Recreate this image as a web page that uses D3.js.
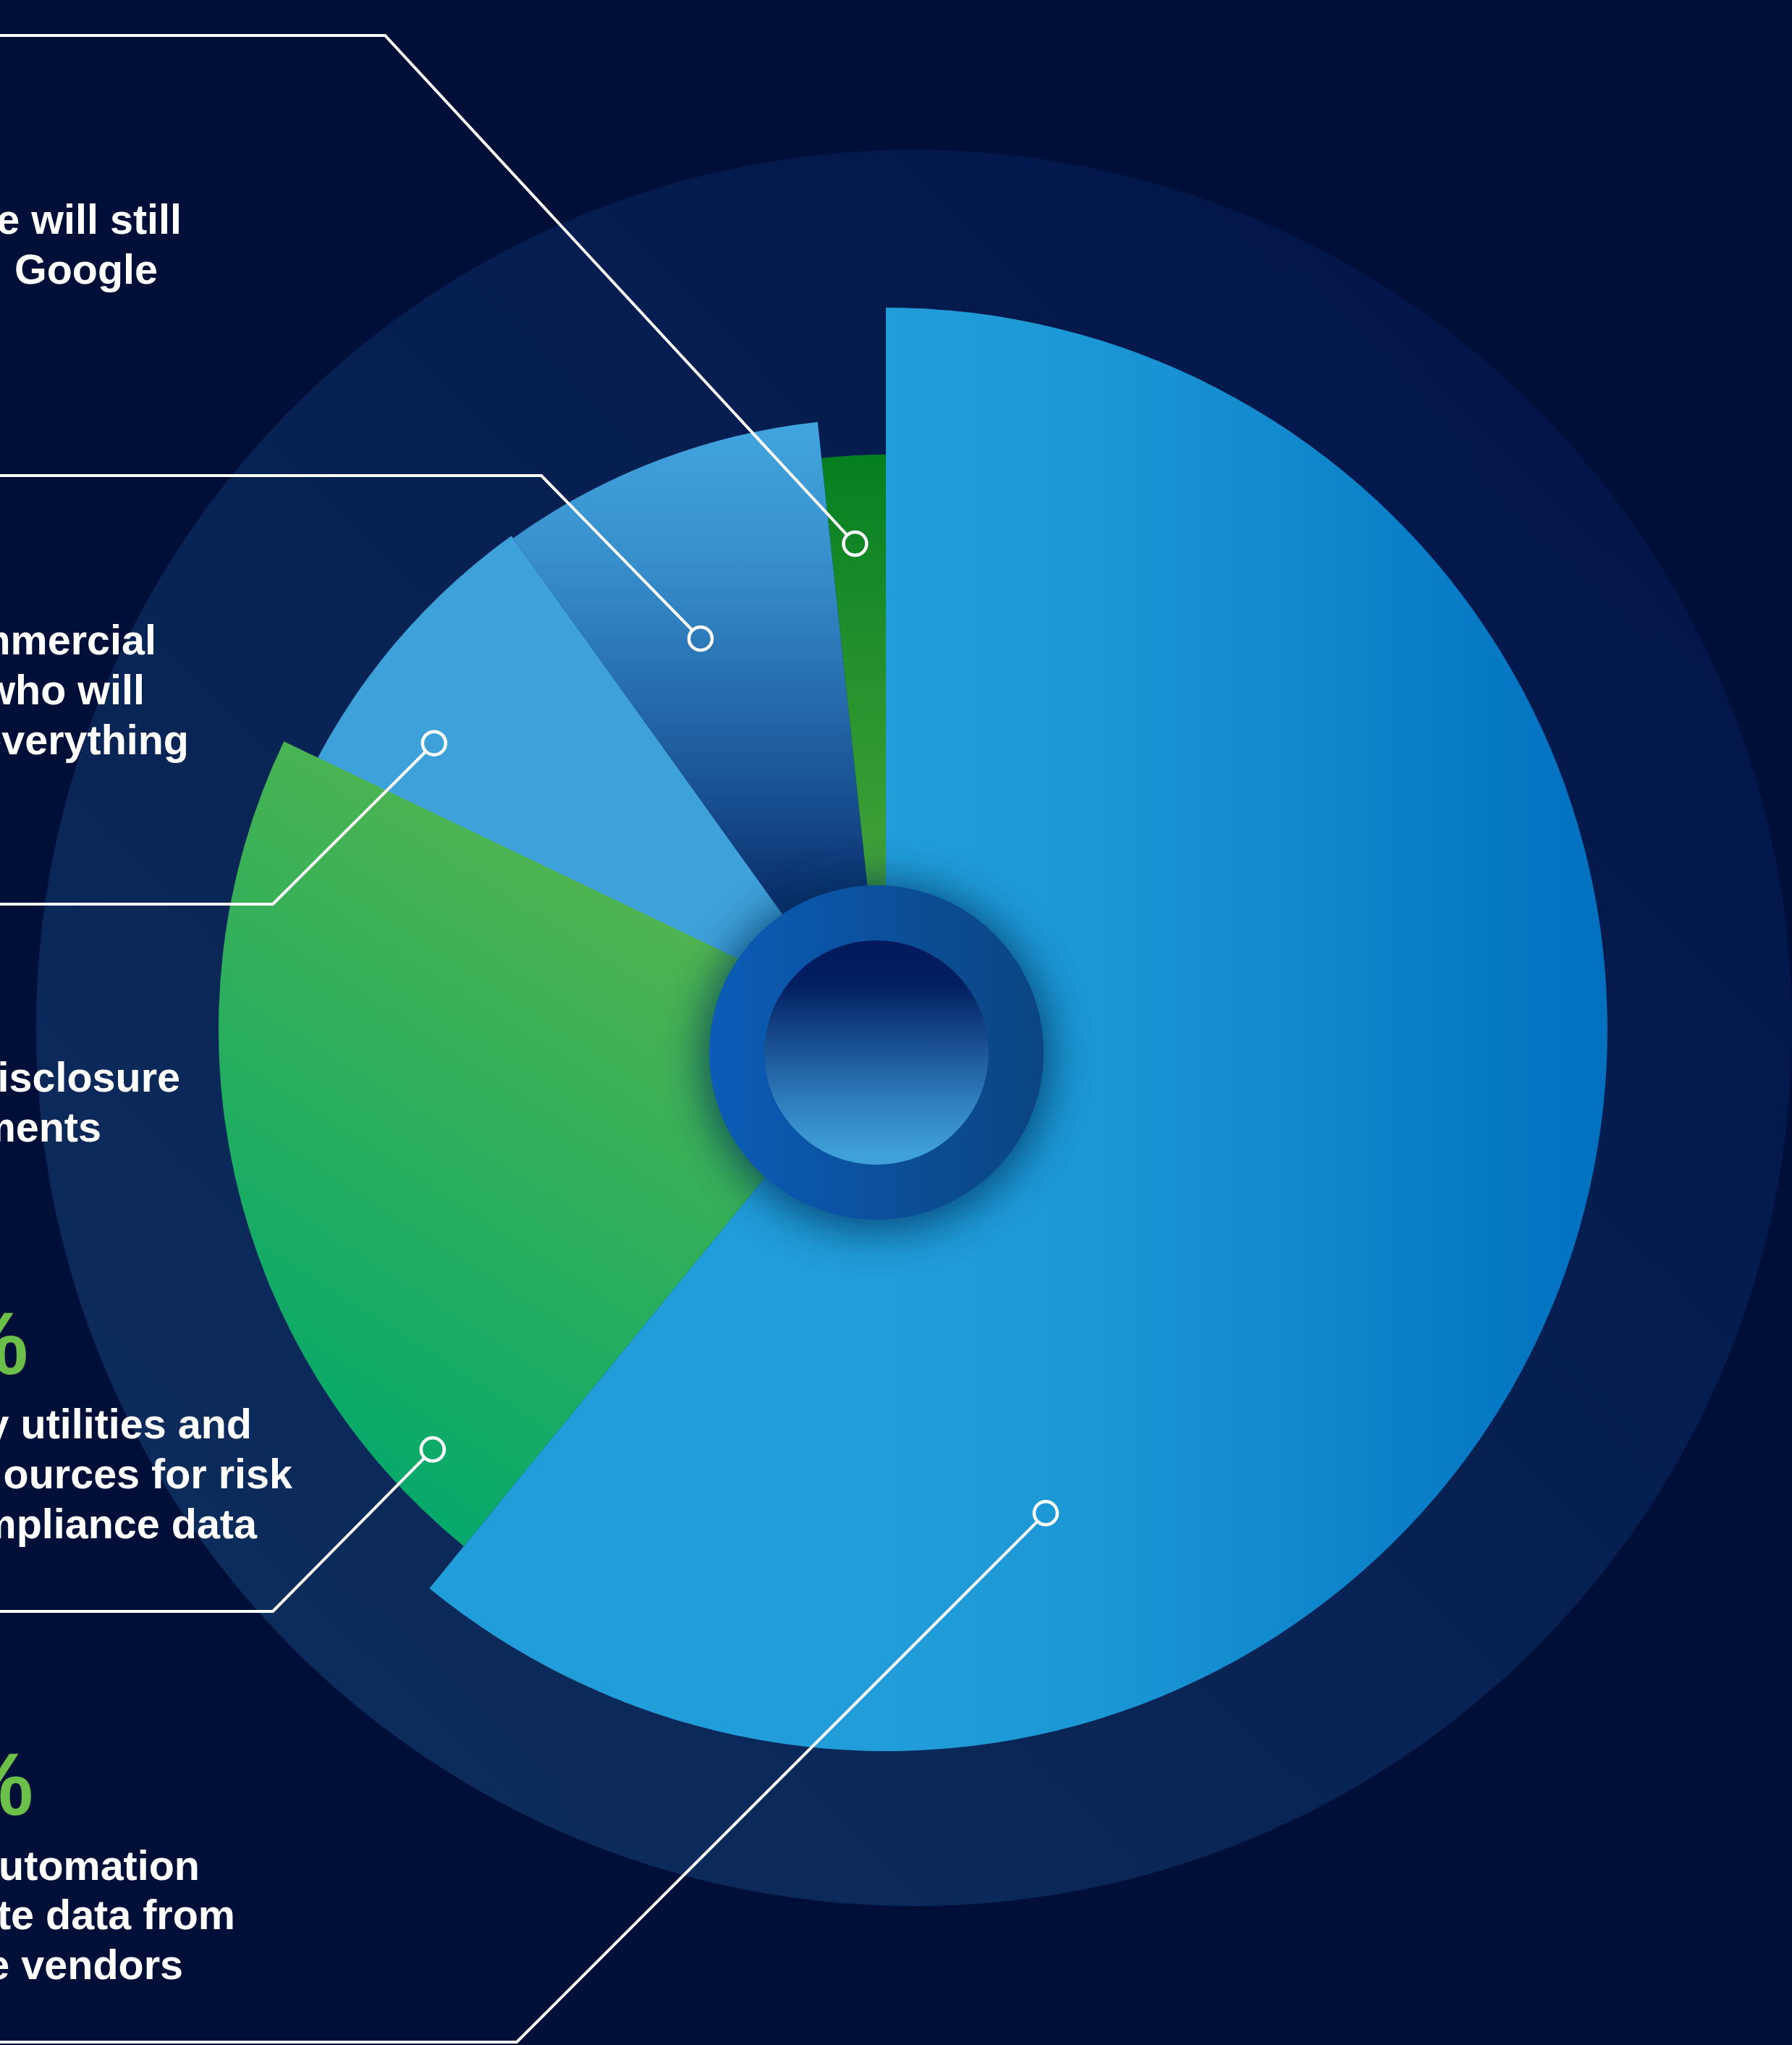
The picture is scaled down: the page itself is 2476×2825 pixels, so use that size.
<!DOCTYPE html>
<html>
<head>
<meta charset="utf-8">
<script src="https://cdn.jsdelivr.net/npm/d3@7"></script>
<style>
  html, body { margin: 0; padding: 0; background: #000f38; }
  svg { display: block; }
</style>
</head>
<body>
<svg id="chart"></svg>
<script>
const W = 2476, H = 2825;

// Survey answers, clockwise from 12 o'clock
const categories = ["automation", "utilities", "disclosure", "commercial", "google"];
// Share of respondents (%) – sets each slice's angle
const shares = [60.9, 21.2, 8.0, 8.2, 1.7];
// Label lines (the page's left edge crops the start of each statement)
const labelLines = [
  ["automation", "te data from", "e vendors"],
  ["y utilities and", "ources for risk", "compliance data"],
  ["disclosure", "ments"],
  ["commercial", "who will", "everything"],
  ["e will still", "Google"]
];
// Statements that carry a headline percentage
const showPercent = [true, true, false, false, false];

// Geometry / styling for each slice and its callout
const layout = {
  automation: { cx: 1224, cy: 1422, r: 997, grad: "gBlue", extend: 0,
                marker: [0.7376, 0.706], elbow: [714, 2821],
                lines: [[276, 2597], [325, 2665], [253, 2734]], pct: [46, 2507] },
  utilities:  { cx: 1224, cy: 1422, r: 922, grad: "gGreen", extend: 0,
                marker: [0.104, 0.926], elbow: [377, 2226],
                lines: [[348, 1987], [404, 2056], [355, 2125]], pct: [39, 1898] },
  disclosure: { cx: 1224, cy: 1462, r: 888, color: "#3fa1d9", extend: 12,
                marker: [0.324, 0.857], elbow: [377, 1249],
                lines: [[249, 1508], [140, 1577]] },
  commercial: { cx: 1224, cy: 1462, r: 884, grad: "gDeep", extend: 0,
                marker: [0.40, 0.717], elbow: [748, 657],
                lines: [[216, 904], [200, 973], [261, 1042]] },
  google:     { cx: 1224, cy: 1462, r: 834, grad: "gThin", extend: 0,
                marker: [0.44, 0.854], elbow: [532, 49],
                lines: [[251, 323], [218, 392]] }
};

const data = categories.map((c, i) => ({
  key: c, share: shares[i], lines: labelLines[i], pct: showPercent[i]
}));

const svg = d3.select("#chart").attr("width", W).attr("height", H)
  .attr("viewBox", `0 0 ${W} ${H}`);

const defs = svg.append("defs");
// Gradients are given in page coordinates; `shift` moves them into a slice's local frame
function linear(id, x1, y1, x2, y2, stops, units, shift) {
  const g = defs.append("linearGradient").attr("id", id)
    .attr("x1", x1).attr("y1", y1).attr("x2", x2).attr("y2", y2)
    .attr("gradientUnits", units || "userSpaceOnUse");
  if (shift) g.attr("gradientTransform", `translate(${-shift[0]},${-shift[1]})`);
  stops.forEach(([o, c]) => g.append("stop").attr("offset", o).attr("stop-color", c));
}
const at = k => [layout[k].cx, layout[k].cy];
linear("gBack", 0.15, 0.85, 0.85, 0.15, [[0, "#0c2c5c"], [1, "#02164a"]], "objectBoundingBox");
linear("gBlue", 1224, 0, 2221, 0, [[0, "#219dd9"], [0.3, "#1b97d5"], [1, "#0070bf"]], null, at("automation"));
linear("gGreen", 1100, 1150, 480, 2120, [[0, "#5fb64a"], [1, "#00a86d"]], null, at("utilities"));
linear("gDeep", 0, 590, 0, 1290, [[0, "#42a4dd"], [0.25, "#3890cc"], [0.5, "#2870b2"], [0.75, "#174d8e"], [1, "#06235f"]], null, at("commercial"));
linear("gThin", 0, 630, 0, 1230, [[0, "#067f21"], [1, "#44a33a"]], null, at("google"));
linear("gRing", 980, 0, 1442, 0, [[0, "#0b5cb8"], [1, "#0b4581"]]);
linear("gHole", 0, 1299, 0, 1609, [[0, "#001a5c"], [0.2, "#021f62"], [0.47, "#1a5192"], [0.72, "#2f7ebd"], [0.95, "#3fa0da"]]);

defs.append("filter").attr("id", "soft")
  .attr("x", "-50%").attr("y", "-50%").attr("width", "200%").attr("height", "200%")
  .append("feGaussianBlur").attr("stdDeviation", 28);

// Page background and backdrop disc
svg.append("rect").attr("width", W).attr("height", H).attr("fill", "#000f38");
svg.append("circle").attr("cx", 1263).attr("cy", 1420).attr("r", 1213).attr("fill", "url(#gBack)");

// Slices
const pie = d3.pie().sort(null).value(d => d.share);
const arcs = pie(data);
const arc = d3.arc().innerRadius(0);
const rad = Math.PI / 180;

const drawOrder = ["disclosure", "commercial", "google", "utilities", "automation"];
const gSlices = svg.append("g");
drawOrder.forEach(k => {
  const a = arcs.find(d => d.data.key === k);
  const L = layout[k];
  gSlices.append("path")
    .attr("transform", `translate(${L.cx},${L.cy})`)
    .attr("d", arc({ startAngle: a.startAngle - L.extend * rad, endAngle: a.endAngle, outerRadius: L.r }))
    .attr("fill", L.grad ? `url(#${L.grad})` : L.color);
});

// Centre hub: soft shadow, ring and inner well
const hub = { cx: 1211, cy: 1454, outer: 231, inner: 155 };
svg.append("circle").attr("cx", hub.cx).attr("cy", hub.cy + 6).attr("r", hub.outer + 12)
  .attr("fill", "#06305c").attr("opacity", 0.7).attr("filter", "url(#soft)");
svg.append("circle").attr("cx", hub.cx).attr("cy", hub.cy).attr("r", hub.outer).attr("fill", "url(#gRing)");
svg.append("circle").attr("cx", hub.cx).attr("cy", hub.cy).attr("r", hub.inner).attr("fill", "url(#gHole)");

// Callouts
const markerR = 16;
const font = "'Liberation Sans', Arial, Helvetica, sans-serif";
const gCall = svg.append("g");
arcs.forEach(a => {
  const L = layout[a.data.key];
  const ang = a.startAngle + L.marker[0] * (a.endAngle - a.startAngle);
  const rr = L.marker[1] * L.r;
  const mx = L.cx + rr * Math.sin(ang), my = L.cy - rr * Math.cos(ang);
  const [ex, ey] = L.elbow;
  const dx = mx - ex, dy = my - ey, len = Math.hypot(dx, dy);
  const endX = mx - markerR * dx / len, endY = my - markerR * dy / len;

  gCall.append("path")
    .attr("d", d3.line()([[-10, ey], [ex, ey], [endX, endY]]))
    .attr("fill", "none").attr("stroke", "#ffffff").attr("stroke-width", 4)
    .attr("stroke-linejoin", "miter");
  gCall.append("circle").attr("cx", mx).attr("cy", my).attr("r", markerR)
    .attr("fill", "none").attr("stroke", "#ffffff").attr("stroke-width", 4.5);

  if (a.data.pct) {
    gCall.append("text")
      .attr("x", L.pct[0]).attr("y", L.pct[1])
      .attr("text-anchor", "end")
      .attr("font-family", font).attr("font-weight", 700).attr("font-size", 122)
      .attr("fill", "#6cc04a")
      .text(d3.format(".0f")(a.data.share) + "%");
  }
  a.data.lines.forEach((t, i) => {
    gCall.append("text")
      .attr("x", L.lines[i][0]).attr("y", L.lines[i][1])
      .attr("text-anchor", "end")
      .attr("font-family", font).attr("font-weight", 700).attr("font-size", 57.5)
      .attr("fill", "#ffffff")
      .text(t);
  });
});
</script>
</body>
</html>
